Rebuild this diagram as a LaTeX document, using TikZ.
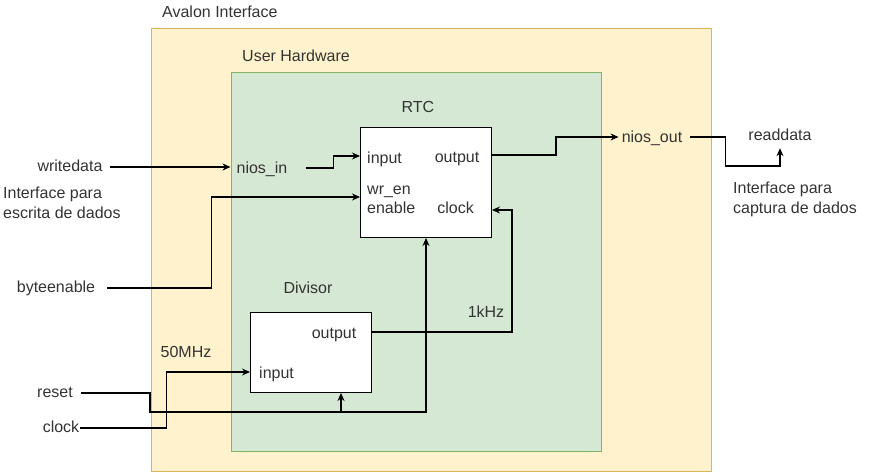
\documentclass[tikz,border=0pt]{standalone}
\usepackage{fontspec}
\setmainfont{Liberation Sans}
\usetikzlibrary{arrows.meta}
\definecolor{avalonfill}{HTML}{FFF2CC}
\definecolor{avalonline}{HTML}{D6B656}
\definecolor{userfill}{HTML}{D5E8D4}
\definecolor{userline}{HTML}{82B366}
\definecolor{txtgray}{HTML}{333333}
\tikzset{
  lbl/.style={inner sep=0pt, text=txtgray, text height=11.5pt, text depth=3.5pt, font=\fontsize{16}{20}\selectfont},
  note/.style={inner sep=0pt, text=txtgray, align=left, font=\fontsize{16}{20}\selectfont},
  blockbox/.style={draw=black, fill=white, line width=1pt, inner sep=0pt, anchor=north west},
  wire/.style={line width=1.1pt, -{Stealth[length=8pt,width=7pt]}},
}

\begin{document}
\begin{tikzpicture}[x=1pt, y=-1pt]
    \useasboundingbox (0,0) rectangle (871,472);

    \node[anchor=north west, inner sep=0pt, fill=avalonfill, draw=avalonline, minimum width=560pt, minimum height=443pt] (avalon) at (150.5,27.5) {};
    \node[anchor=north west, inner sep=0pt, fill=userfill, draw=userline, minimum width=370pt, minimum height=379pt] (userhw) at (230.5,71.5) {};

    \node[lbl, anchor=west] (avalonlbl) at (162,13) {Avalon Interface};
    \node[lbl, anchor=west] (userlbl) at (242,57) {User Hardware};

    \node[blockbox, minimum width=131pt, minimum height=110pt] (rtc) at (360,127) {};
    \node[lbl] (rtclbl) at (418,108) {RTC};
    \node[lbl, anchor=west] (rtcin) at (367,159) {input};
    \node[lbl] (rtcout) at (457,158) {output};
    \node[lbl, anchor=west] (rtcwr) at (367,190) {wr\_en};
    \node[lbl, anchor=west] (rtcen) at (367,209) {enable};
    \node[lbl, anchor=east] (rtcclk) at (474,209) {clock};

    \node[blockbox, minimum width=121pt, minimum height=80pt] (divbox) at (250,312) {};
    \node[lbl] (divlbl) at (308,289) {Divisor};
    \node[lbl, anchor=west] (divin) at (259,374) {input};
    \node[lbl] (divout) at (334,334) {output};

    \node[lbl] (writedata) at (70,167) {writedata};
    \node[lbl] (niosin) at (262,169) {nios\_in};
    \node[note, anchor=west] (leftnote) at (3,203) {Interface para\\escrita de dados};
    \node[lbl] (byteenable) at (56,288) {byteenable};
    \node[lbl] (niosout) at (652,138) {nios\_out};
    \node[lbl] (readdata) at (780,136) {readdata};
    \node[note, anchor=west] (rightnote) at (733,199) {Interface para\\captura de dados};
    \node[lbl] (khz) at (486,313) {1kHz};
    \node[lbl] (mhz) at (186,353) {50MHz};
    \node[lbl] (reset) at (55,393) {reset};
    \node[lbl] (clock) at (61,428) {clock};

    % inputs from the Avalon side
    \draw[wire] ([xshift=7pt]writedata.east) -- (writedata.east -| userhw.west);
    \draw[wire] ([xshift=18pt,yshift=1pt]niosin.east) -- ++(28,0) |- ([yshift=-29pt]rtc.north west);
    \draw[wire] ([xshift=12pt]byteenable.east) -- ++(104,0) |- ([yshift=-70pt]rtc.north west);

    % outputs
    \draw[wire] ([yshift=-28pt]rtc.north east) -- ++(64,0) |- ([xshift=-3pt,yshift=1pt]niosout.west);
    \draw[wire] ([xshift=8pt,yshift=1pt]niosout.east) -| ++(35,29) -| ([yshift=-4.5pt]readdata.south);

    % clocks and reset
    \draw[wire] ([yshift=-20pt]divbox.north east) -- ++(140,0) |- ([yshift=-83pt]rtc.north east);
    \draw[wire] ([xshift=1pt]clock.east) -- ++(86,0) |- ([yshift=-60pt]divbox.north west);
    \draw[wire] ([xshift=8pt]reset.east) -| ++(69,19) -| (rtc.south);
    \coordinate (rstjoin) at (341,412);
    \draw[wire] (rstjoin) -- (rstjoin |- divbox.south);
\end{tikzpicture}
\end{document}
